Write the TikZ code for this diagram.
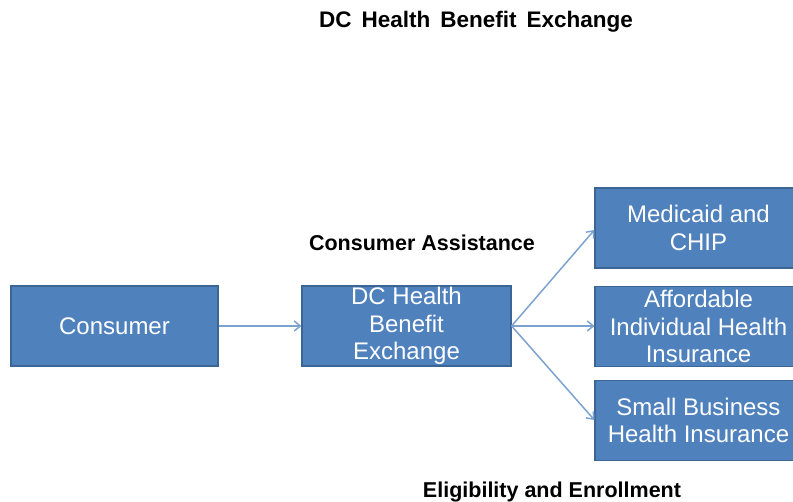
\documentclass[tikz,border=0pt]{standalone}
\usepackage{fontspec}
\setmainfont{Liberation Sans}
\usetikzlibrary{arrows.meta}
\definecolor{boxfill}{HTML}{4F81BD}
\definecolor{boxline}{HTML}{3A6594}
\definecolor{arrowc}{HTML}{7CA2D0}
\begin{document}
\begin{tikzpicture}[x=1pt,y=-1pt,
  box/.style={draw=boxline,line width=1.2pt,fill=boxfill,text=white,minimum width=207pt,minimum height=80pt,
    inner sep=0pt,align=center,font=\fontsize{24}{27.5}\selectfont},
  conn/.style={draw=arrowc,line width=1.5pt,-{Straight Barb[length=6pt,width=10pt]}},
  lbl/.style={font=\fontsize{21.5}{24}\bfseries\selectfont,text=black}]
\useasboundingbox (0,0) rectangle (793,502);
\begin{scope}
\clip (0,0) rectangle (793,502);
\node[box] (cons) at (114.5,326) {Consumer};
\node[box,minimum width=209pt] (dc) at (406.5,326) {DC Health\\Benefit\\Exchange};
\node[box] (med) at (698.5,228) {Medicaid and\\CHIP};
\node[box] (aff) at (698.5,326.5) {Affordable\\Individual Health\\Insurance};
\node[box] (sbh) at (698.5,420.5) {Small Business\\Health Insurance};
\end{scope}
\node[lbl,font=\fontsize{22.5}{24}\bfseries\selectfont] (title) at (476,22) {DC\, Health\, Benefit\, Exchange};
\node[lbl] (ca) at (422,243) {Consumer Assistance};
\node[lbl] (ee) at (552,492) {Eligibility and Enrollment};
\draw[conn] (cons.east) -- (dc.west);
\draw[conn] (dc.east) -- (med.west |- 0,230);
\draw[conn] (dc.east) -- (aff.west |- dc.east);
\draw[conn] (dc.east) -- (sbh.west |- 0,420);
\end{tikzpicture}
\end{document}
